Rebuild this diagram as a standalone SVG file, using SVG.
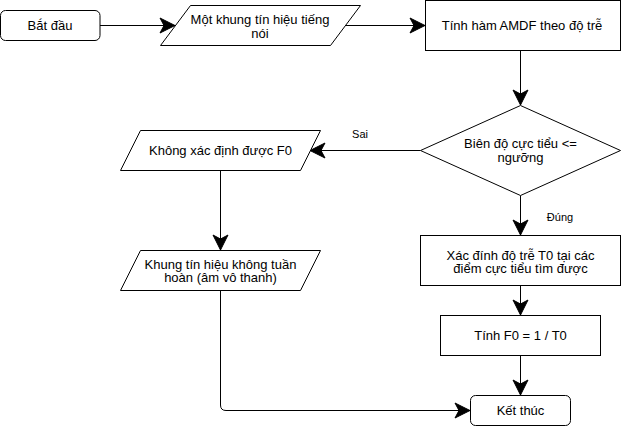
<svg xmlns="http://www.w3.org/2000/svg" width="621" height="427" viewBox="0 0 621 427">
<style>
.shape{fill:#fff;stroke:#000;stroke-width:1}
.edge{fill:none;stroke:#000;stroke-width:1}
.t{font-family:"Liberation Sans",Arial,sans-serif;font-size:13px;fill:#000;text-anchor:middle}
.lbl{font-family:"Liberation Sans",Arial,sans-serif;font-size:11px;fill:#000;text-anchor:middle}
</style>
<defs>
<marker id="arr" viewBox="-16 -9 17 18" markerWidth="17" markerHeight="18" refX="0" refY="0" orient="auto" markerUnits="userSpaceOnUse">
<path d="M0,0 L-15,-7.5 L-11,0 L-15,7.5 Z" fill="#000" stroke="#000" stroke-width="1"/>
</marker>
</defs>
<rect width="621" height="427" fill="#fff"/>
<g id="connectors">
<path class="edge" d="M100,25.5 L175,25.5" marker-end="url(#arr)"/>
<path class="edge" d="M345,25.5 L425,25.5" marker-end="url(#arr)"/>
<path class="edge" d="M520.5,50.5 L520.5,105" marker-end="url(#arr)"/>
<path class="edge" d="M420.5,150.5 L310,150.5" marker-end="url(#arr)"/>
<path class="edge" d="M220.5,170.5 L220.5,250" marker-end="url(#arr)"/>
<path class="edge" d="M520.5,195.5 L520.5,235" marker-end="url(#arr)"/>
<path class="edge" d="M520.5,285.5 L520.5,315" marker-end="url(#arr)"/>
<path class="edge" d="M520.5,355.5 L520.5,395" marker-end="url(#arr)"/>
<path class="edge" d="M220.5,290.5 L220.5,405 Q220.5,410.5 226,410.5 L470,410.5" marker-end="url(#arr)"/>
<text class="lbl" x="360" y="138">Sai</text>
<text class="lbl" x="560" y="221">Đúng</text>
</g>
<g id="start">
<rect class="shape" x="0.5" y="10.5" width="99.5" height="30" rx="5" ry="5"/>
<text class="t" x="50" y="30">Bắt đầu</text>
</g>
<g id="input">
<polygon class="shape" points="190.5,5.5 360.5,5.5 330.5,45.5 160.5,45.5"/>
<text class="t" x="260" y="23.5">Một khung tín hiệu tiếng</text>
<text class="t" x="260" y="37.5">nói</text>
</g>
<g id="amdf">
<rect class="shape" x="425.5" y="0.5" width="195" height="50"/>
<text class="t" x="522" y="30">Tính hàm AMDF theo độ trễ</text>
</g>
<g id="decision">
<polygon class="shape" points="520.5,105.5 620.5,150.5 520.5,195.5 420.5,150.5"/>
<text class="t" x="520.5" y="148">Biên độ cực tiểu &lt;=</text>
<text class="t" x="520.5" y="162">ngưỡng</text>
</g>
<g id="nof0">
<polygon class="shape" points="140.5,130.5 320.5,130.5 300.5,170.5 120.5,170.5"/>
<text class="t" x="220.5" y="155">Không xác định được F0</text>
</g>
<g id="unvoiced">
<polygon class="shape" points="140.5,250.5 320.5,250.5 300.5,290.5 120.5,290.5"/>
<text class="t" x="220.5" y="268.5">Khung tín hiệu không tuần</text>
<text class="t" x="220.5" y="282">hoàn (âm vô thanh)</text>
</g>
<g id="t0">
<rect class="shape" x="420.5" y="235.5" width="200" height="50"/>
<text class="t" x="520.5" y="259.5">Xác đính độ trễ T0 tại các</text>
<text class="t" x="520.5" y="273">điểm cực tiểu tìm được</text>
</g>
<g id="f0">
<rect class="shape" x="440.5" y="315.5" width="160" height="40"/>
<text class="t" x="520.5" y="340">Tính F0 = 1 / T0</text>
</g>
<g id="end">
<rect class="shape" x="470.5" y="395.5" width="100" height="30" rx="5" ry="5"/>
<text class="t" x="520.5" y="414.5">Kết thúc</text>
</g>
</svg>
